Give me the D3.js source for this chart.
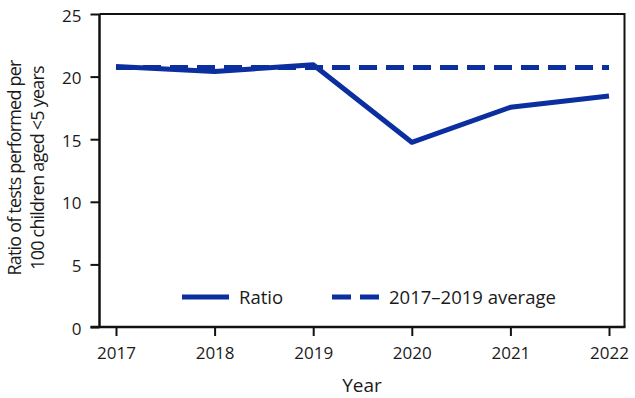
<!DOCTYPE html>
<html>
<head>
<meta charset="utf-8">
<script src="https://d3js.org/d3.v7.min.js"></script>
<style>
  body { margin: 0; background: #fff; }
  svg text { font-family: "Open Sans", sans-serif; fill: #1a1a1a; }
</style>
</head>
<body>
<svg id="chart" width="635" height="398"></svg>
<script>
// chart data
const years = [2017, 2018, 2019, 2020, 2021, 2022];
const ratio = [20.8, 20.4, 20.95, 14.75, 17.55, 18.45];
const baseline = [20.72, 20.72, 20.72, 20.72, 20.72, 20.72];
const yTicks = [0, 5, 10, 15, 20, 25];

const svg = d3.select("#chart");
const blue = "#0b2f9f";

// plot area
const plotLeft = 99.5, plotRight = 624.5, plotTop = 14, plotBottom = 327;

const x = d3.scaleLinear().domain([2017, 2022]).range([116, 609]);
const y = d3.scaleLinear().domain([0, 25]).range([plotBottom, plotTop]);

// frame (top + right)
svg.append("path")
    .attr("d", `M${plotLeft},${plotTop}H${plotRight}V${plotBottom}`)
    .attr("fill", "none")
    .attr("stroke", "#111")
    .attr("stroke-width", 2);

// y axis
const yAxis = svg.append("g")
    .attr("transform", `translate(${plotLeft},0)`)
    .call(d3.axisLeft(y).tickValues(yTicks).tickSize(9).tickPadding(9));
yAxis.select(".domain").attr("stroke", "#111").attr("stroke-width", 2.5)
    .attr("d", `M0,${plotTop}V${plotBottom + 1}`);
yAxis.selectAll(".tick line").attr("stroke", "#111").attr("stroke-width", 2);
yAxis.selectAll(".tick text")
    .style("font-size", "17px").attr("dy", "0.42em")
    .attr("fill", "#1a1a1a");

// x axis
const xAxis = svg.append("g")
    .attr("transform", `translate(0,${plotBottom})`)
    .call(d3.axisBottom(x).tickValues(years).tickFormat(d3.format("d")).tickSize(9).tickPadding(11));
xAxis.select(".domain").attr("stroke", "#111").attr("stroke-width", 2.5)
    .attr("d", `M${plotLeft - 9},0H${plotRight + 1}`);
xAxis.selectAll(".tick line").attr("stroke", "#111").attr("stroke-width", 2);
xAxis.selectAll(".tick text")
    .style("font-size", "17px")
    .attr("fill", "#1a1a1a");

// axis titles
svg.append("text")
    .attr("x", 362).attr("y", 392)
    .attr("text-anchor", "middle")
    .style("font-size", "19px")
    .text("Year");

const yTitle = svg.append("text")
    .attr("transform", "translate(21,168) rotate(-90)")
    .attr("text-anchor", "middle")
    .style("font-size", "18px")
    .style("letter-spacing", "-0.8px");
yTitle.append("tspan").attr("x", 0).attr("dy", 0).text("Ratio of tests performed per");
yTitle.append("tspan").attr("x", 0).attr("dy", 23).text("100 children aged <5 years");

// lines
const line = d3.line().x((d, i) => x(years[i])).y(d => y(d));

svg.append("path")
    .datum(baseline)
    .attr("d", line)
    .attr("fill", "none")
    .attr("stroke", blue)
    .attr("stroke-width", 5)
    .attr("stroke-dasharray", "18,9");

svg.append("path")
    .datum(ratio)
    .attr("d", line)
    .attr("fill", "none")
    .attr("stroke", blue)
    .attr("stroke-width", 5)
    .attr("stroke-linejoin", "round");

// legend
const legend = svg.append("g").attr("transform", "translate(0,297)");
legend.append("line")
    .attr("x1", 182).attr("x2", 229).attr("y1", 0).attr("y2", 0)
    .attr("stroke", blue).attr("stroke-width", 5);
legend.append("text")
    .attr("x", 239).attr("y", 7)
    .style("font-size", "18.5px")
    .text("Ratio");
legend.append("line")
    .attr("x1", 332).attr("x2", 379).attr("y1", 0).attr("y2", 0)
    .attr("stroke", blue).attr("stroke-width", 5)
    .attr("stroke-dasharray", "19,9");
legend.append("text")
    .attr("x", 389).attr("y", 7)
    .style("font-size", "18.5px")
    .text("2017–2019 average");
</script>
</body>
</html>
